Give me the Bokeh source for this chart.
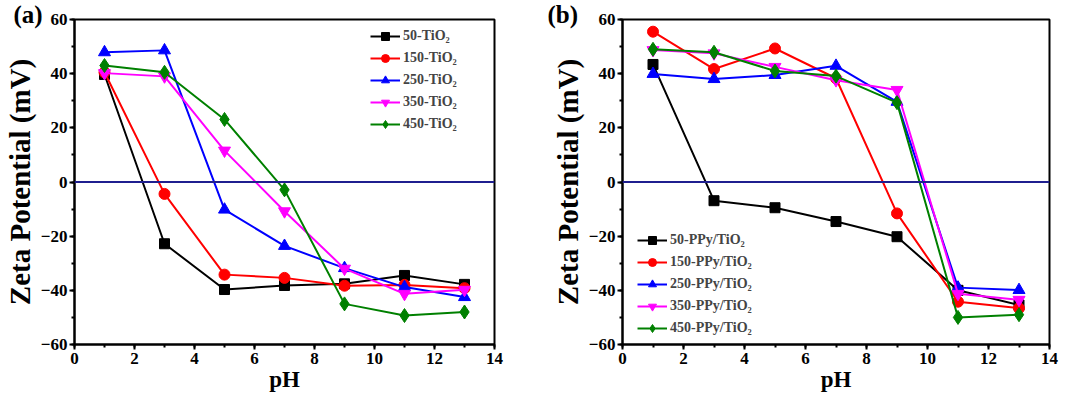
from bokeh.plotting import figure
from bokeh.layouts import row
from bokeh.models import Range1d, Legend, Span, SingleIntervalTicker
from bokeh.embed import file_html
from bokeh.resources import INLINE

ph = [1, 3, 5, 7, 9, 11, 13]

labels_a = ["50-TiO₂", "150-TiO₂", "250-TiO₂", "350-TiO₂", "450-TiO₂"]
a_50 = [39.7, -22.8, -39.7, -38.2, -37.6, -34.5, -37.8]
a_150 = [40.5, -4.4, -34.2, -35.4, -38.3, -38.0, -39.2]
a_250 = [47.9, 48.6, -10.2, -23.6, -31.8, -38.8, -42.5]
a_350 = [40.2, 39.0, 11.6, -10.8, -32.0, -41.3, -39.8]
a_450 = [43.0, 40.5, 23.1, -2.9, -45.0, -49.3, -48.0]

labels_b = ["50-PPy/TiO₂", "150-PPy/TiO₂", "250-PPy/TiO₂", "350-PPy/TiO₂", "450-PPy/TiO₂"]
b_50 = [43.4, -6.9, -9.5, -14.6, -20.2, -40.0, -45.4]
b_150 = [55.5, 41.7, 49.3, 38.3, -11.6, -44.2, -46.6]
b_250 = [39.9, 38.0, 39.5, 42.9, 29.6, -39.0, -39.9]
b_350 = [48.7, 47.5, 42.5, 37.6, 34.0, -41.3, -43.5]
b_450 = [49.0, 47.9, 41.0, 39.1, 29.3, -50.0, -49.0]

colors = ["#000000", "#FF0000", "#0000FF", "#FF00FF", "#008000"]
markers = ["square", "circle", "triangle", "inverted_triangle", "diamond"]
msizes = [10, 11, 12, 12, 14]

FONT = "Liberation Serif"


def make_panel(series, labels, tag, width, bl, br, legend_loc, tag_dx):
    p = figure(width=width, height=397, output_backend="svg", toolbar_location=None,
               x_range=Range1d(0, 14), y_range=Range1d(-60, 60), title=tag,
               min_border_left=bl, min_border_right=br, min_border_top=19, min_border_bottom=53)
    p.title.align = "left"
    p.title.offset = tag_dx
    p.title.standoff = -17
    p.title.text_font = FONT
    p.title.text_font_style = "bold"
    p.title.text_font_size = "25px"
    p.title.text_color = "black"

    p.grid.visible = False
    p.outline_line_color = "black"
    p.outline_line_width = 2
    p.background_fill_color = "white"
    p.border_fill_color = "white"

    p.add_layout(Span(location=0, dimension="width", line_color="#1F1F8F", line_width=2))

    items = []
    for ys, lab, c, m, s in zip(series, labels, colors, markers, msizes):
        r1 = p.line(ph, ys, line_color=c, line_width=2)
        r2 = p.scatter(ph, ys, marker=m, size=s, fill_color=c, line_color=c)
        items.append((lab, [r1, r2]))

    leg = Legend(items=items, location=legend_loc)
    leg.label_text_font = FONT
    leg.label_text_font_style = "bold"
    leg.label_text_font_size = "14px"
    leg.glyph_width = 30
    leg.glyph_height = 20
    leg.label_height = 20
    leg.label_standoff = 3
    leg.spacing = 2
    leg.padding = 2
    leg.margin = 0
    leg.border_line_color = None
    leg.background_fill_alpha = 0
    p.add_layout(leg)

    p.xaxis.ticker = SingleIntervalTicker(interval=2, num_minor_ticks=2)
    p.yaxis.ticker = SingleIntervalTicker(interval=20, num_minor_ticks=2)
    for ax in [p.xaxis[0], p.yaxis[0]]:
        ax.axis_line_width = 2
        ax.major_tick_line_width = 2
        ax.minor_tick_line_width = 2
        ax.major_tick_out = 5
        ax.major_tick_in = 0
        ax.minor_tick_out = 3
        ax.minor_tick_in = 0
        ax.major_label_text_font = FONT
        ax.major_label_text_font_style = "bold"
        ax.major_label_text_font_size = "17px"
        ax.major_label_text_color = "black"
        ax.axis_label_text_font = FONT
        ax.axis_label_text_font_style = "bold"
        ax.axis_label_text_color = "black"
    p.xaxis.axis_label = "pH"
    p.xaxis.axis_label_text_font_size = "23px"
    p.xaxis.axis_label_standoff = 0
    p.xaxis.major_label_standoff = 3
    p.yaxis.axis_label = "Zeta Potential (mV)"
    p.yaxis.axis_label_text_font_size = "29px"
    p.yaxis.axis_label_standoff = 2
    p.yaxis.major_label_standoff = 2
    return p


pa = make_panel([a_50, a_150, a_250, a_350, a_450], labels_a, "(a)", 548, 72, 54, (296, 210), -61)
pb = make_panel([b_50, b_150, b_250, b_350, b_450], labels_b, "(b)", 526, 74, 25, (15, 6), -75)

layout = row(pa, pb)
open("out.html", "w").write(file_html(layout, INLINE))
